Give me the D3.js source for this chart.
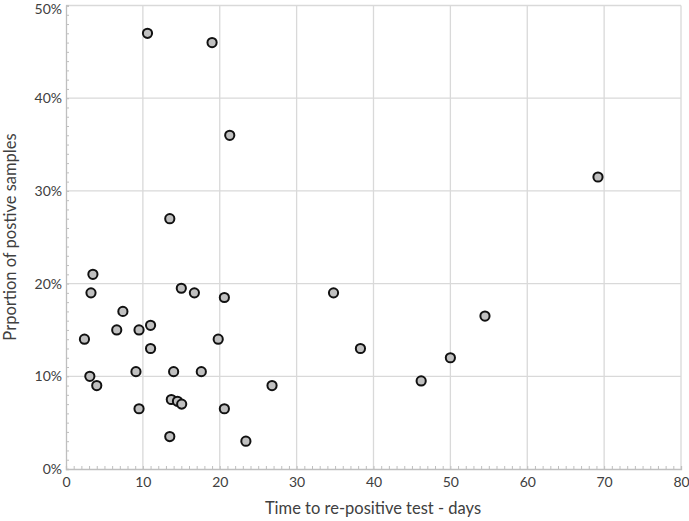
<!DOCTYPE html>
<html><head><meta charset="utf-8">
<script src="https://cdn.jsdelivr.net/npm/d3@7"></script>
<style>body{margin:0;background:#fff}svg{display:block}text{font-family:Lato,"Open Sans",sans-serif}</style>
</head><body><svg id="c" width="689" height="521"></svg>
<script>
const days = [3.5,3.25,2.4,3.1,4.0,7.4,6.6,9.5,11.0,11.0,9.1,9.5,13.5,13.7,14.0,14.5,15.05,15.0,16.7,17.6,19.8,20.6,20.6,23.4,26.8,34.8,38.3,46.2,50.0,54.5,69.2,10.6,19.0,21.3,13.5];
const proportion = [21.0,19.0,14.0,10.0,9.0,17.0,15.0,15.0,15.5,13.0,10.5,6.5,3.5,7.5,10.5,7.3,7.0,19.5,19.0,10.5,14.0,18.5,6.5,3.0,9.0,19.0,13.0,9.5,12.0,16.5,31.5,47.0,46.0,36.0,27.0];
const xTicks = [0,10,20,30,40,50,60,70,80];
const yTicks = [0,10,20,30,40,50];
const xTitle = "Time to re-positive test - days";
const yTitle = "Prportion of postive samples";

const svg = d3.select("#c");
const L=66, R=681, T=5.5, B=469;
const x = d3.scaleLinear().domain([0,80]).range([L,R]);
const y = d3.scaleLinear().domain([0,50]).range([B,T]);
const grid = "#d9d9d9";

svg.append("g").selectAll("line").data(xTicks.slice(1)).join("line")
  .attr("x1",d=>x(d)).attr("x2",d=>x(d)).attr("y1",T).attr("y2",B)
  .attr("stroke",grid).attr("stroke-width",1.3);
svg.append("g").selectAll("line").data(yTicks.slice(1)).join("line")
  .attr("x1",L).attr("x2",R).attr("y1",d=>y(d)).attr("y2",d=>y(d))
  .attr("stroke",grid).attr("stroke-width",1.3);

const xa = svg.append("g").attr("transform",`translate(0,${B})`)
  .call(d3.axisBottom(x).tickValues(d3.range(0,81,1)).tickSize(-3).tickFormat(""));
xa.select(".domain").attr("stroke","#bfbfbf").attr("stroke-width",1.3);
xa.selectAll(".tick line").attr("stroke","#bfbfbf");
const xl = svg.append("g").attr("transform",`translate(0,${B})`)
  .call(d3.axisBottom(x).tickValues(xTicks).tickSize(0).tickPadding(8).tickFormat(d3.format("d")));
xl.select(".domain").remove();
xl.selectAll("text").attr("font-size",14).attr("fill","#404040");

const ya = svg.append("g").attr("transform",`translate(${L},0)`)
  .call(d3.axisLeft(y).tickValues(d3.range(0,51,1)).tickSize(-3).tickFormat(""));
ya.select(".domain").attr("stroke","#bfbfbf").attr("stroke-width",1.3);
ya.selectAll(".tick line").attr("stroke","#bfbfbf");
const yl = svg.append("g").attr("transform",`translate(${L},0)`)
  .call(d3.axisLeft(y).tickValues(yTicks).tickSize(0).tickPadding(4).tickFormat(d=>d+"%"));
yl.select(".domain").remove();
yl.selectAll("text").attr("font-size",14).attr("fill","#404040")
  .attr("dy",d=>d===50?"0.55em":"0.32em");

svg.append("g").selectAll("circle").data(days.map((d,i)=>[d,proportion[i]])).join("circle")
  .attr("cx",d=>x(d[0])).attr("cy",d=>y(d[1])).attr("r",4.6)
  .attr("fill","#c0c0c0").attr("stroke","#111").attr("stroke-width",2);

svg.append("text").attr("x",373).attr("y",514).attr("text-anchor","middle")
  .attr("font-size",16.5).attr("fill","#404040").text(xTitle);
svg.append("text").attr("transform","translate(16,237) rotate(-90)").attr("text-anchor","middle")
  .attr("font-size",16.5).attr("fill","#404040").text(yTitle);
</script></body></html>
